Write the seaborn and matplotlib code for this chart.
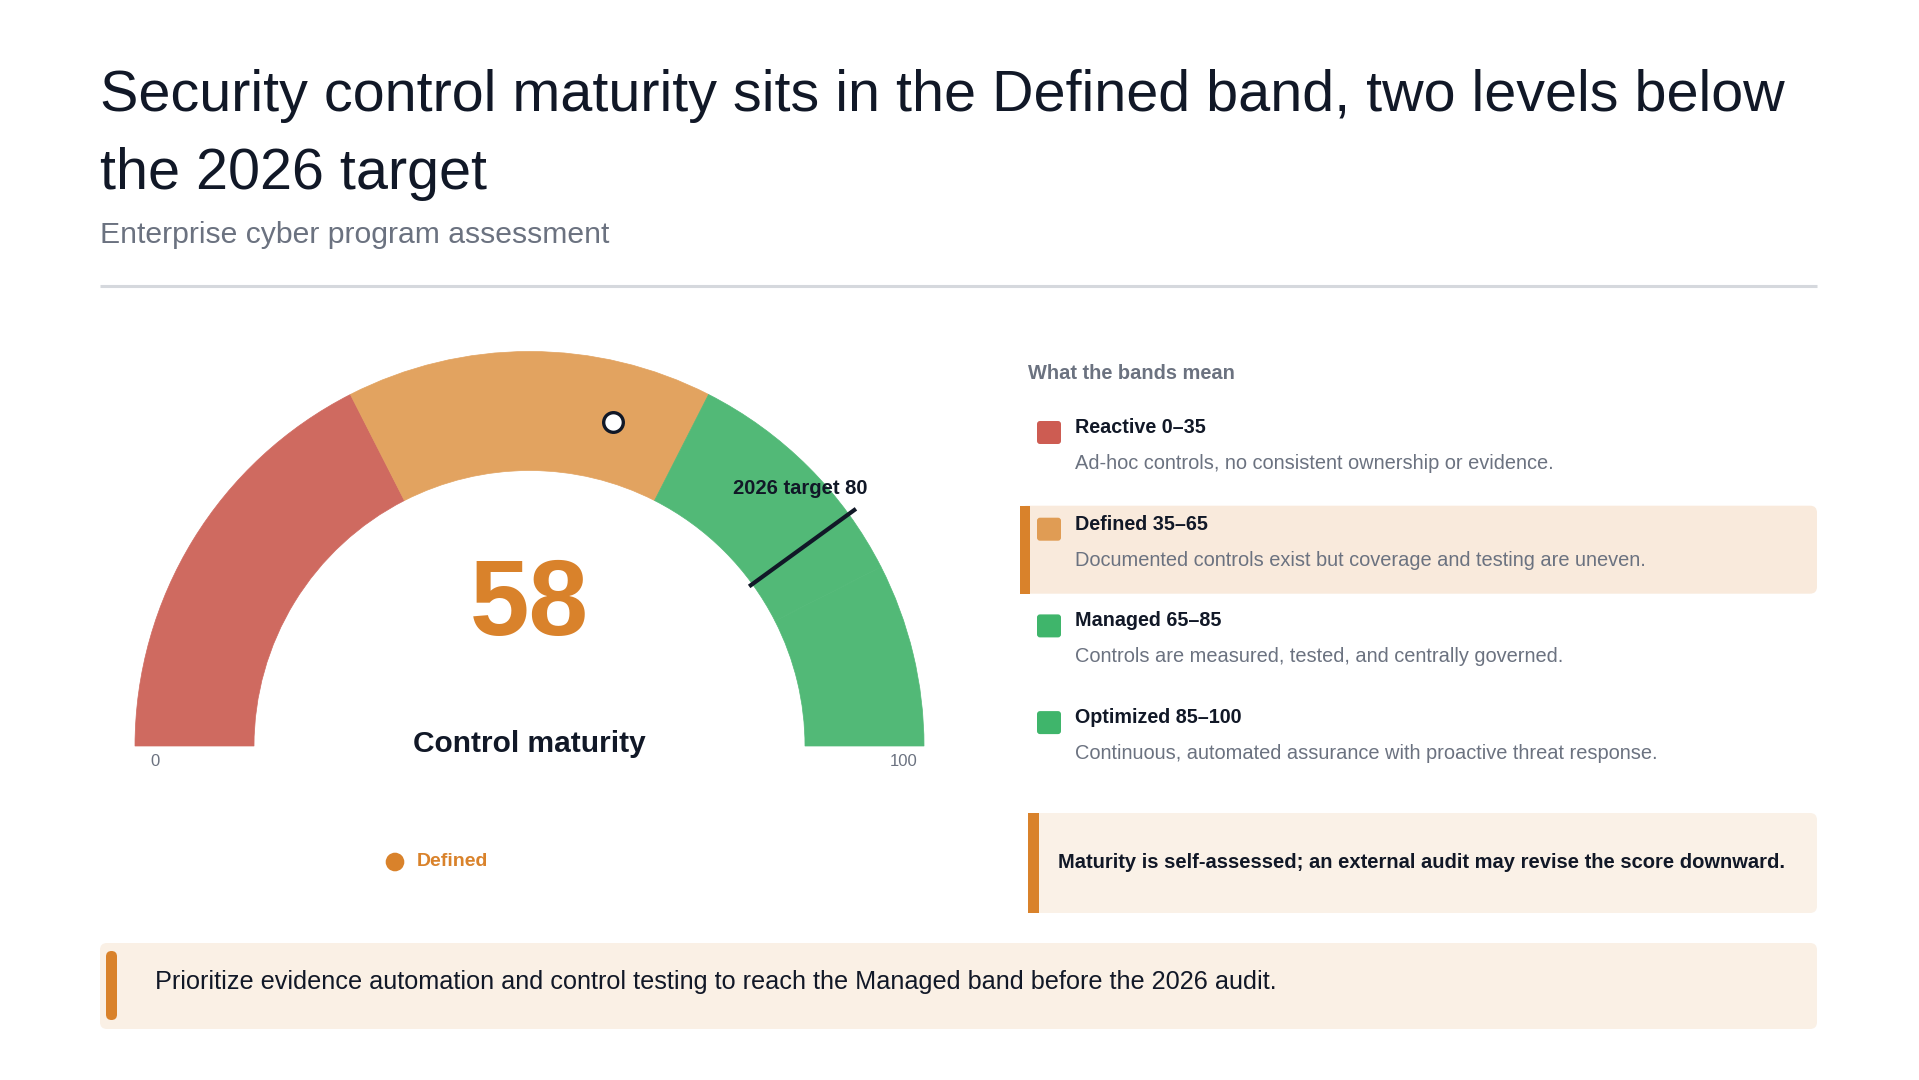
import matplotlib
matplotlib.use('Agg')
import matplotlib.pyplot as plt
from matplotlib.patches import Wedge, FancyBboxPatch, Rectangle
import numpy as np
import pandas as pd
import seaborn as sns

# chart data
band_names = ['Reactive', 'Defined', 'Managed', 'Optimized']
band_lo = [0, 35, 65, 85]
band_hi = [35, 65, 85, 100]
band_desc = ['Ad-hoc controls, no consistent ownership or evidence.',
             'Documented controls exist but coverage and testing are uneven.',
             'Controls are measured, tested, and centrally governed.',
             'Continuous, automated assurance with proactive threat response.']
score = 58
target = 80
target_label = '2026 target 80'
current_band = 'Defined'
scale_min, scale_max = 0, 100

title_lines = ['Security control maturity sits in the Defined band, two levels below',
               'the 2026 target']
subtitle = 'Enterprise cyber program assessment'
note = 'Maturity is self-assessed; an external audit may revise the score downward.'
takeaway = 'Prioritize evidence automation and control testing to reach the Managed band before the 2026 audit.'

# styling
sns.set_theme(style='white')
plt.rcParams['font.family'] = ['Liberation Sans', 'DejaVu Sans']

DARK = '#111827'
GREY = '#6b7280'
ACCENT = '#d9822b'
swatch_colors = ['#cd5c52', '#e09c54', '#3fb56b', '#3fb56b']
arc_colors = ['#cf6a60', '#e2a360', '#52b977', '#52b977']

W, H = 1919, 1080
fig = plt.figure(figsize=(W / 100, H / 100), dpi=100)
fig.patch.set_facecolor('white')

# overlay axes in pixel units (y down)
ax = fig.add_axes([0, 0, 1, 1])
ax.set_xlim(0, W)
ax.set_ylim(H, 0)
ax.axis('off')

# header
for i, line in enumerate(title_lines):
    ax.text(100, 111 + i * 78, line, fontsize=41.4, color=DARK, va='baseline', ha='left')
ax.text(100, 243, subtitle, fontsize=21.7, color=GREY, va='baseline', ha='left')
ax.plot([100, 1817], [286, 286], color='#d5d8dd', lw=2.2, solid_capstyle='butt')

# gauge axes, units = pixels, origin at gauge centre
cx, cy = 529.5, 746
r_out, r_in = 394.5, 275.5
gl, gr, gt, gb = cx - 420, cx + 420, cy - 430, cy + 40
gax = fig.add_axes([gl / W, (H - gb) / H, (gr - gl) / W, (gb - gt) / H])
gax.set_xlim(-420, 420)
gax.set_ylim(-40, 430)
gax.axis('off')


def to_angle(v):
    return 180 - (v - scale_min) / (scale_max - scale_min) * 180


for lo, hi, col in zip(band_lo, band_hi, arc_colors):
    gax.add_patch(Wedge((0, 0), r_out, to_angle(hi), to_angle(lo),
                        width=r_out - r_in, facecolor=col, edgecolor=col, lw=0.5))

# score marker
r_mid = (r_out + r_in) / 2
a = np.deg2rad(to_angle(score))
marker_df = pd.DataFrame({'x': [r_mid * np.cos(a)], 'y': [r_mid * np.sin(a)]})
sns.scatterplot(data=marker_df, x='x', y='y', ax=gax, s=200, color='white',
                edgecolor=DARK, linewidth=2.4, zorder=5, legend=False)

# target tick
t = np.deg2rad(to_angle(target))
gax.plot([(r_in - 4) * np.cos(t), (r_out + 9) * np.cos(t)],
         [(r_in - 4) * np.sin(t), (r_out + 9) * np.sin(t)],
         color=DARK, lw=3, solid_capstyle='butt', zorder=4)
gax.annotate(target_label, xy=((r_out + 9) * np.cos(t), (r_out + 9) * np.sin(t)),
             xytext=(-56, 20), textcoords='offset pixels', ha='center', va='center',
             fontsize=14.5, fontweight='bold', color=DARK)

# centre labels
ax.text(cx, 635, str(score), fontsize=77, fontweight='bold', color=ACCENT,
        ha='center', va='baseline')
ax.text(cx, 752, 'Control maturity', fontsize=21.5, fontweight='bold', color=DARK,
        ha='center', va='baseline')
ax.text(cx - (r_out - 20), 766, str(scale_min), fontsize=12, color=GREY,
        ha='center', va='baseline')
ax.text(cx + (r_out - 20), 766, str(scale_max), fontsize=12, color=GREY,
        ha='center', va='baseline')

# current band legend
ax.scatter([395], [862], s=180, color=ACCENT, edgecolor='none')
ax.text(417, 862, current_band, fontsize=14, fontweight='bold', color=ACCENT,
        ha='left', va='center')

# band explanations
ax.text(1028, 379, 'What the bands mean', fontsize=14.4, fontweight='bold',
        color=GREY, va='baseline')
row_gap = 96.7
for i, (name, lo, hi, desc, col) in enumerate(zip(band_names, band_lo, band_hi,
                                                   band_desc, swatch_colors)):
    y0 = 421 + i * row_gap
    if name == current_band:
        ax.add_patch(FancyBboxPatch((1020, y0 - 12), 797, 88,
                                    boxstyle='round,pad=0,rounding_size=7',
                                    facecolor='#f9eadc', edgecolor='none', zorder=0))
        ax.add_patch(Rectangle((1020, y0 - 12), 10, 88, facecolor=ACCENT,
                               edgecolor='none', zorder=1))
    ax.add_patch(FancyBboxPatch((1037, y0), 24, 23,
                                boxstyle='round,pad=0,rounding_size=3',
                                facecolor=col, edgecolor='none', zorder=2))
    ax.text(1075, y0 + 12, f'{name} {lo}\u2013{hi}', fontsize=14.2, fontweight='bold',
            color=DARK, va='baseline')
    ax.text(1075, y0 + 48, desc, fontsize=14.4, color=GREY, va='baseline')

# caveat note
ax.add_patch(FancyBboxPatch((1028, 813), 789, 100,
                            boxstyle='round,pad=0,rounding_size=7',
                            facecolor='#faf1e7', edgecolor='none', zorder=0))
ax.add_patch(Rectangle((1028, 813), 11, 100, facecolor=ACCENT, edgecolor='none',
                       zorder=1))
ax.text(1058, 862, note, fontsize=14.5, fontweight='bold', color=DARK,
        va='center', ha='left')

# takeaway banner
ax.add_patch(FancyBboxPatch((100, 943), 1717, 86,
                            boxstyle='round,pad=0,rounding_size=7',
                            facecolor='#faf0e5', edgecolor='none', zorder=0))
ax.add_patch(FancyBboxPatch((106, 951), 11, 69,
                            boxstyle='round,pad=0,rounding_size=5.5',
                            facecolor=ACCENT, edgecolor='none', zorder=1))
ax.text(155, 982, takeaway, fontsize=18.2, color=DARK, va='center', ha='left')

fig.savefig('out.png', dpi=100, facecolor='white')
